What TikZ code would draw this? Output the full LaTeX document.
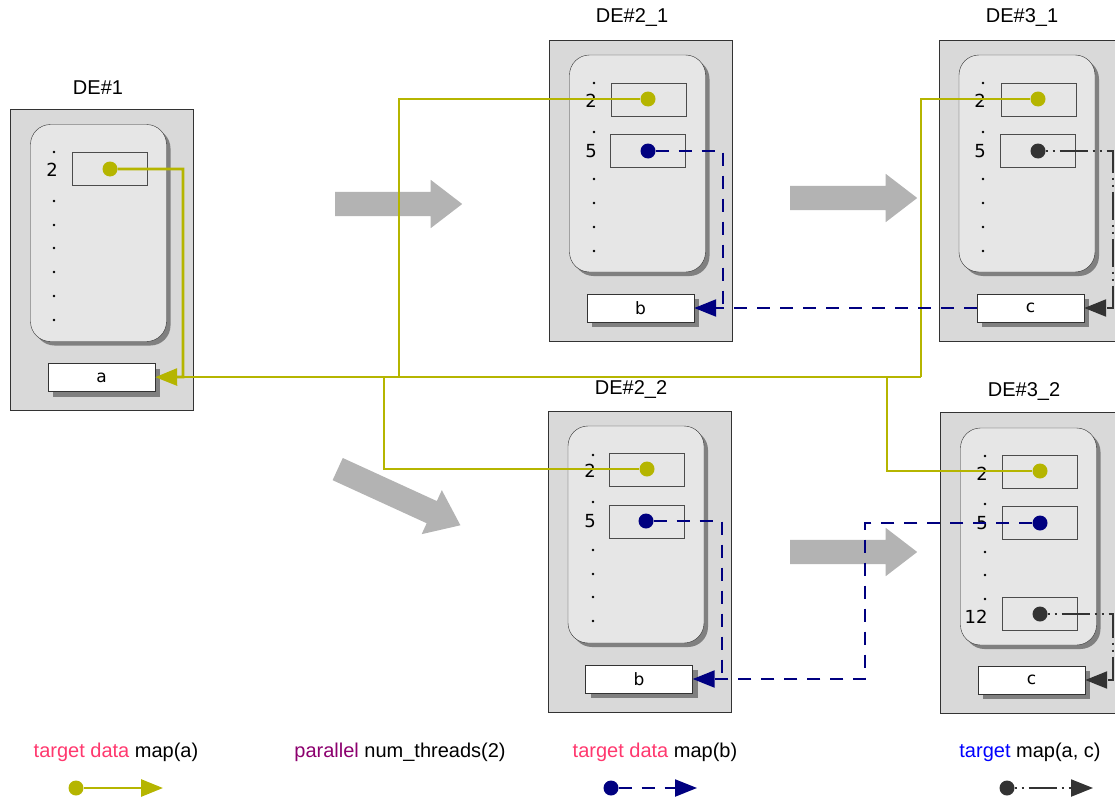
\documentclass[tikz,border=0pt]{standalone}
\usepackage{fontspec}
\setmainfont{Liberation Sans}
\newfontfamily\idxfont{DejaVu Sans}
\usetikzlibrary{arrows.meta,shapes.arrows,shadows}

\definecolor{mapolive}{RGB}{181,181,0}
\definecolor{mapnavy}{RGB}{0,0,128}
\definecolor{mapdark}{RGB}{51,51,51}
\definecolor{kwpink}{RGB}{255,56,110}
\definecolor{kwpurple}{RGB}{140,0,110}
\definecolor{kwblue}{RGB}{0,0,255}
\definecolor{envgray}{RGB}{217,217,217}
\definecolor{memgray}{RGB}{230,230,230}
\definecolor{flowgray}{RGB}{179,179,179}

\begin{document}
\begin{tikzpicture}[
		x=1pt, y=-1pt,
		env/.style={draw=black!80, fill=envgray, inner sep=0pt, minimum width=183pt, minimum height=301pt},
		mem/.style={draw=black!80, fill=memgray, rounded corners=20pt, inner sep=0pt,
			minimum width=136pt, minimum height=217pt,
			drop shadow={shadow xshift=4pt, shadow yshift=-4pt, fill=black!50, opacity=1}},
		slot/.style={draw=black!70, inner sep=0pt, minimum width=75pt, minimum height=33pt},
		var/.style={draw=black!80, fill=white, inner sep=0pt, minimum width=107pt, minimum height=28pt,
			font=\idxfont\fontsize{17}{20}\selectfont,
			drop shadow={shadow xshift=5pt, shadow yshift=-5pt, fill=black!50, opacity=1}},
		idx/.style={inner sep=0pt, font=\idxfont\fontsize{18}{20}\selectfont},
		title/.style={inner sep=0pt, font=\fontsize{20}{24}\selectfont},
		legend/.style={inner sep=0pt, font=\fontsize{20}{24}\selectfont},
		ball/.style={circle, inner sep=0pt, minimum size=15pt},
		flow/.style={single arrow, fill=flowgray, inner xsep=0pt, inner ysep=12pt, anchor=tail,
			single arrow head extend=12pt, single arrow tip angle=75, minimum height=127pt},
		mapa/.style={draw=mapolive, line width=2.8pt},
		mapb/.style={draw=mapnavy, line width=2.2pt, dash pattern=on 13pt off 10pt},
		mapc/.style={draw=mapdark, line width=2.2pt, dash pattern=on 2pt off 5pt on 2pt off 5pt on 28pt off 5pt},
		>={Triangle[length=22pt,width=17pt]}]
	\clip (0,0) rectangle (1115,800);
	%% flow of execution
	\node[flow] (fa) at (335,204) {};
	\node[flow, rotate=-24.6, minimum height=135pt] (fb) at (337.5,469) {};
	\node[flow] (fc) at (790,198) {};
	\node[flow] (fd) at (790,552) {};
	%% DE#1
	\node[title] (t1) at (98,88) {DE\#1};
	\node[env] (env1) at (101.5,259.5) {};
	\node[mem] (mem1) at (98.5,233) {};
	\node[slot] (s1) at (109.5,168.5) {};
	\node[idx] (i1) at (52,170) {2};
	\foreach \y in {152,201,225,248,272,296,320}
		\fill (54,\y) circle (1.4pt);
	\node[var] (a1) at (101.5,377.5) {a};
	%% DE#2_1
	\node[title] (t21) at (632,18) {DE\#2\_1};
	\node[env] (env21) at (641,190.5) {};
	\node[mem] (mem21) at (637.5,163.5) {};
	\node[slot] (s21a) at (649,99.5) {};
	\node[slot] (s21b) at (648,150.5) {};
	\node[idx] (i21a) at (591,101) {2};
	\node[idx] (i21b) at (591,151) {5};
	\foreach \y in {83,132,179,203,227,251}
		\fill (594,\y) circle (1.4pt);
	\node[var] (b21) at (640.5,308) {b};
	%% DE#3_1
	\node[title] (t31) at (1022,18) {DE\#3\_1};
	\node[env] (env31) at (1031,190.5) {};
	\node[mem] (mem31) at (1027,163.5) {};
	\node[slot] (s31a) at (1038.5,99.5) {};
	\node[slot] (s31b) at (1037.5,150.5) {};
	\node[idx] (i31a) at (980,101) {2};
	\node[idx] (i31b) at (980,151) {5};
	\foreach \y in {83,132,179,203,227,251}
		\fill (983,\y) circle (1.4pt);
	\node[var] (c31) at (1030.5,308) {c};
	%% DE#2_2
	\node[title] (t22) at (631,389) {DE\#2\_2};
	\node[env] (env22) at (639.5,561.5) {};
	\node[mem] (mem22) at (636,534.5) {};
	\node[slot] (s22a) at (647,470) {};
	\node[slot] (s22b) at (646.5,521.5) {};
	\node[idx] (i22a) at (590,471) {2};
	\node[idx] (i22b) at (590,521) {5};
	\foreach \y in {455,502,550,574,597,621}
		\fill (593,\y) circle (1.4pt);
	\node[var] (b22) at (639,679) {b};
	%% DE#3_2
	\node[title] (t32) at (1024,391) {DE\#3\_2};
	\node[env] (env32) at (1032,562.5) {};
	\node[mem] (mem32) at (1028.5,536.5) {};
	\node[slot] (s32a) at (1039.5,471.5) {};
	\node[slot] (s32b) at (1039.5,523) {};
	\node[slot] (s32c) at (1039.5,613.5) {};
	\node[idx] (i32a) at (982,474) {2};
	\node[idx] (i32b) at (982,523) {5};
	\node[idx] (i32c) at (976,617) {12};
	\foreach \y in {456,504,552,575,599}
		\fill (985,\y) circle (1.4pt);
	\node[var] (c32) at (1031.5,680) {c};
	%% mapped items
	\node[ball, fill=mapolive] (o1) at (110,169) {};
	\node[ball, fill=mapolive] (o21) at (648,99) {};
	\node[ball, fill=mapnavy] (n21) at (648,151) {};
	\node[ball, fill=mapolive] (o31) at (1038,99) {};
	\node[ball, fill=mapdark] (k31) at (1038,151) {};
	\node[ball, fill=mapolive] (o22) at (647,469) {};
	\node[ball, fill=mapnavy] (n22) at (646,521) {};
	\node[ball, fill=mapolive] (o32) at (1040,471) {};
	\node[ball, fill=mapnavy] (n32) at (1040,523) {};
	\node[ball, fill=mapdark] (k32) at (1040,614) {};
	%% map(a)
	\coordinate (j0) at (183,377);
	\coordinate (j1) at (399,377);
	\coordinate (j2) at (921,377);
	\coordinate (j3) at (384,377);
	\coordinate (j4) at (887,377);
	\draw[mapa] (j0) -- (j2);
	\draw[mapa] (j1) |- (o21);
	\draw[mapa] (j2) |- (o31);
	\draw[mapa] (j3) |- (o22);
	\draw[mapa] (j4) |- (o32);
	\draw[mapa,->] (o1) -| (j0) -- (a1);
	%% map(b)
	\coordinate (q21) at (723,308);
	\coordinate (q22) at (722,679);
	\coordinate (q32) at (865,679);
	\draw[mapb] (n21) -| (q21);
	\draw[mapb,->] (c31) -- (b21);
	\draw[mapb] (n22) -| (q22);
	\draw[mapb,->] (n32) -| (q32) -- (b22);
	%% map(a, c)
	\coordinate (r31) at (1113,308);
	\coordinate (r32) at (1113,680);
	\draw[mapc,->] (k31) -| (r31) -- (c31);
	\draw[mapc,->] (k32) -| (r32) -- (c32);
	%% legend
	\node[legend] (la) at (116,752) {\textcolor{kwpink}{target data} map(a)};
	\node[legend] (lp) at (400,752) {\textcolor{kwpurple}{parallel} num\_threads(2)};
	\node[legend] (lb) at (655,752) {\textcolor{kwpink}{target data} map(b)};
	\node[legend] (lc) at (1030,752) {\textcolor{kwblue}{target} map(a, c)};
	\node[ball, fill=mapolive] (la0) at (76,788) {};
	\coordinate (la1) at (163,788);
	\draw[mapa,->] (la0) -- (la1);
	\node[ball, fill=mapnavy] (lb0) at (611,788) {};
	\coordinate (lb1) at (697,788);
	\draw[mapb,->] (lb0) -- (lb1);
	\node[ball, fill=mapdark] (lc0) at (1007,788) {};
	\coordinate (lc1) at (1093,788);
	\draw[mapc,->] (lc0) -- (lc1);
\end{tikzpicture}
\end{document}
